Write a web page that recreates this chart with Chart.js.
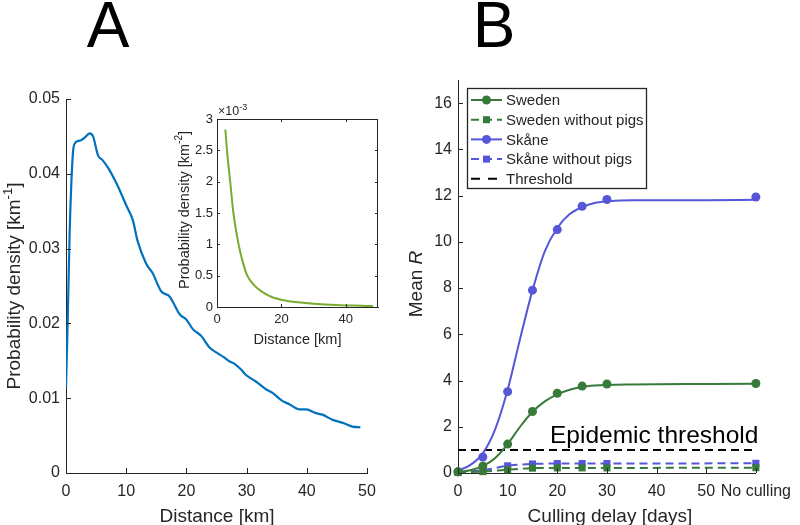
<!DOCTYPE html>
<html><head><meta charset="utf-8">
<script src="https://cdn.jsdelivr.net/npm/chart.js@4/dist/chart.umd.min.js"></script>
<style>
html,body{margin:0;padding:0;background:#fff;}
body{width:800px;height:525px;position:relative;overflow:hidden;}
canvas{position:absolute;}
</style></head>
<body>
<canvas id="cA" width="400" height="525" style="left:0;top:0"></canvas>
<canvas id="cIn" width="230" height="258" style="left:160px;top:100px"></canvas>
<canvas id="cB" width="400" height="525" style="left:400px;top:0"></canvas>
<script>
// ---------- Panel A: kernel density of distance ----------
const distA = [0, 0.3, 0.6, 0.9, 1.2, 1.6, 2.0, 2.5, 3.2, 3.9, 4.5, 5.3, 6.1, 7.0, 8.4, 10.0, 11.1, 11.9, 13.3, 14.4, 15.8, 17.2, 18.0, 18.9, 20.0, 21.1, 22.5, 23.8, 25.2, 26.2, 27.2, 28.0, 29.0, 29.9, 31.6, 33.2, 34.3, 36.0, 37.1, 38.8, 39.9, 41.5, 42.6, 44.3, 46.0, 47.6, 48.9];
const densA = [0.0115, 0.021, 0.032, 0.039, 0.0432, 0.0442, 0.0444, 0.0445, 0.0449, 0.0454, 0.0450, 0.0425, 0.0418, 0.0408, 0.0387, 0.0358, 0.0338, 0.0310, 0.0280, 0.0267, 0.0243, 0.0236, 0.0225, 0.0212, 0.0205, 0.0192, 0.0183, 0.0168, 0.0160, 0.0155, 0.0149, 0.0146, 0.0139, 0.0131, 0.0122, 0.0112, 0.0107, 0.0096, 0.0092, 0.0085, 0.0085, 0.0080, 0.0078, 0.0071, 0.0067, 0.0062, 0.0061];
// ---------- Inset: density per area (x 10^-3) ----------
const distIn = [2.6, 3.1, 4.1, 5.1, 6.7, 8.0, 9.4, 11.5, 13.8, 17.0, 21.5, 26.0, 31.0, 37.0, 43.0, 48.5];
const densIn = [2.83, 2.5, 2.0, 1.5, 1.0, 0.72, 0.5, 0.35, 0.25, 0.16, 0.1, 0.07, 0.048, 0.032, 0.022, 0.015];
// ---------- Panel B: mean R vs culling delay ----------
const delays = [0, 5, 10, 15, 20, 25, 30, 60];
const sweden = [0.05, 0.3, 1.25, 2.66, 3.45, 3.76, 3.85, 3.87];
const swedenNoPigs = [0.02, 0.06, 0.14, 0.21, 0.22, 0.22, 0.22, 0.23];
const skane = [0.05, 0.69, 3.52, 7.91, 10.53, 11.54, 11.83, 11.94];
const skaneNoPigs = [0.03, 0.12, 0.31, 0.39, 0.41, 0.41, 0.41, 0.42];
const fitDelays = [0, 2.5, 5, 7.5, 10, 12.5, 15, 17.5, 20, 22.5, 25, 27.5, 30, 35, 40, 50, 60];
const swedenFit = [0.05, 0.12, 0.3, 0.65, 1.25, 2.0, 2.65, 3.1, 3.4, 3.6, 3.72, 3.78, 3.81, 3.83, 3.84, 3.85, 3.86];
const skaneFit = [0.1, 0.35, 0.85, 1.9, 3.6, 5.8, 7.9, 9.6, 10.6, 11.2, 11.5, 11.68, 11.75, 11.8, 11.8, 11.8, 11.82];
const thresholdX = [0, 60];
const thresholdY = [1, 1];
const seriesNames = ['Sweden', 'Sweden without pigs', 'Sk\u00e5ne', 'Sk\u00e5ne without pigs', 'Threshold'];
const xTicksB = [0, 10, 20, 30, 40, 50, 60];
const noCullLabel = 'No culling';

const AX = '#262626', GREEN = '#377a39', PURPLE = '#5656d8', BLUE = '#0072bd', LGREEN = '#77ac30';
const FAM = '"Liberation Sans", Arial, Helvetica, sans-serif';
Chart.defaults.font.family = FAM;
Chart.defaults.color = AX;

const pts = (xs, ys) => xs.map((x, i) => ({x, y: ys[i]}));

function scale(min, max, step, o) {
  return {
    type: 'linear', min, max,
    ticks: {stepSize: step, includeBounds: false, autoSkip: false, maxRotation: 0, minRotation: 0,
            font: {size: o.fs}, color: AX, padding: o.pad, callback: o.cb},
    grid: {display: true, drawOnChartArea: false, drawTicks: false},
    border: {display: true, color: AX, width: 1},
    afterFit: s => { if (o.w != null) s.width = o.w; if (o.h != null) s.height = o.h; }
  };
}

function rich(ctx, parts, x, y, size, align, rot, color) {
  ctx.save();
  ctx.translate(x, y);
  if (rot) ctx.rotate(rot);
  ctx.fillStyle = color || AX;
  ctx.textBaseline = 'alphabetic';
  ctx.textAlign = 'left';
  const ss = Math.round(size * 0.7);
  let w = 0;
  parts.forEach(p => {
    p.f = (p.it ? 'italic ' : '') + (p.sup ? ss : size) + 'px ' + FAM;
    ctx.font = p.f; p.w = ctx.measureText(p.t).width; w += p.w;
  });
  let cx = align === 'center' ? -w / 2 : align === 'right' ? -w : 0;
  parts.forEach(p => { ctx.font = p.f; ctx.fillText(p.t, cx, p.sup ? -size * 0.42 : 0); cx += p.w; });
  ctx.restore();
}

function inTicks(chart, len, box) {
  const {ctx, chartArea: a, scales: {x, y}} = chart;
  ctx.save();
  ctx.strokeStyle = AX; ctx.lineWidth = 1;
  ctx.beginPath();
  x.ticks.forEach(t => {
    const p = Math.round(x.getPixelForValue(t.value)) + 0.5;
    ctx.moveTo(p, a.bottom); ctx.lineTo(p, a.bottom - len);
    if (box) { ctx.moveTo(p, a.top); ctx.lineTo(p, a.top + len); }
  });
  y.ticks.forEach(t => {
    const p = Math.round(y.getPixelForValue(t.value)) + 0.5;
    ctx.moveTo(a.left, p); ctx.lineTo(a.left + len, p);
    if (box) { ctx.moveTo(a.right, p); ctx.lineTo(a.right - len, p); }
  });
  ctx.stroke();
  if (box) { ctx.strokeRect(Math.round(a.left) + 0.5, Math.round(a.top) + 0.5, Math.round(a.width) - 1, Math.round(a.height)); }
  ctx.restore();
}

// ---------------- Chart A ----------------
new Chart(document.getElementById('cA'), {
  type: 'line',
  data: {datasets: [{
    data: pts(distA, densA), borderColor: BLUE, borderWidth: 2.2, pointRadius: 0,
    cubicInterpolationMode: 'monotone', fill: false
  }]},
  options: {
    responsive: false, animation: false,
    layout: {padding: {left: 0, right: 33, top: 99, bottom: 0}},
    plugins: {legend: {display: false}, tooltip: {enabled: false}},
    scales: {
      x: scale(0, 50, 10, {fs: 16, pad: 9, h: 52}),
      y: scale(0, 0.05, 0.01, {fs: 16, pad: 6, w: 66, cb: v => v === 0 ? '0' : Number(v).toFixed(2)})
    }
  },
  plugins: [{id: 'decoA', afterDraw(chart) {
    const ctx = chart.ctx;
    inTicks(chart, 5, false);
    rich(ctx, [{t: 'Distance [km]'}], 217, 522, 19, 'center');
    rich(ctx, [{t: 'Probability density [km'}, {t: '-1', sup: true}, {t: ']'}], 20, 286, 19, 'center', -Math.PI / 2);
    rich(ctx, [{t: 'A'}], 108, 47, 64, 'center', 0, '#000');
  }}]
});

// ---------------- Inset ----------------
new Chart(document.getElementById('cIn'), {
  type: 'line',
  data: {datasets: [{
    data: pts(distIn, densIn), borderColor: LGREEN, borderWidth: 2, pointRadius: 0,
    cubicInterpolationMode: 'monotone', fill: false
  }]},
  options: {
    responsive: false, animation: false,
    layout: {padding: {left: 0, right: 12, top: 19, bottom: 0}},
    plugins: {legend: {display: false}, tooltip: {enabled: false}},
    scales: {
      x: scale(0, 50, 20, {fs: 13, pad: 5, h: 51}),
      y: scale(0, 3, 0.5, {fs: 13, pad: 4, w: 57, cb: v => String(Math.round(v * 10) / 10)})
    }
  },
  plugins: [{id: 'decoIn', afterDraw(chart) {
    const ctx = chart.ctx;
    inTicks(chart, 3, true);
    rich(ctx, [{t: 'Distance [km]'}], 137.5, 243.5, 14.5, 'center');
    rich(ctx, [{t: 'Probability density [km'}, {t: '-2', sup: true}, {t: ']'}], 28.5, 110, 14.5, 'center', -Math.PI / 2);
    rich(ctx, [{t: '\u00d710'}, {t: '-3', sup: true}], 58, 15, 12.5, 'left');
  }}]
});

// ---------------- Chart B ----------------
const base = {fill: false, clip: false};
new Chart(document.getElementById('cB'), {
  type: 'line',
  data: {datasets: [
    Object.assign({label: seriesNames[0] + ' fit', data: pts(fitDelays, swedenFit), borderColor: GREEN, borderWidth: 2, pointRadius: 0, cubicInterpolationMode: 'monotone'}, base),
    Object.assign({label: seriesNames[0], data: pts(delays, sweden), showLine: false, pointRadius: 4.5, pointBackgroundColor: GREEN, pointBorderColor: GREEN, pointBorderWidth: 0}, base),
    Object.assign({label: seriesNames[1], data: pts(delays, swedenNoPigs), borderColor: GREEN, borderWidth: 2, borderDash: [8, 5], cubicInterpolationMode: 'monotone', pointStyle: 'rect', pointRadius: 5, pointBackgroundColor: GREEN, pointBorderColor: GREEN, pointBorderWidth: 0}, base),
    Object.assign({label: seriesNames[2] + ' fit', data: pts(fitDelays, skaneFit), borderColor: PURPLE, borderWidth: 2, pointRadius: 0, cubicInterpolationMode: 'monotone'}, base),
    Object.assign({label: seriesNames[2], data: pts(delays, skane), showLine: false, pointRadius: 4.5, pointBackgroundColor: PURPLE, pointBorderColor: PURPLE, pointBorderWidth: 0}, base),
    Object.assign({label: seriesNames[3], data: pts(delays, skaneNoPigs), borderColor: PURPLE, borderWidth: 2, borderDash: [8, 5], cubicInterpolationMode: 'monotone', pointStyle: 'rect', pointRadius: 5, pointBackgroundColor: PURPLE, pointBorderColor: PURPLE, pointBorderWidth: 0}, base),
    Object.assign({label: seriesNames[4], data: pts(thresholdX, thresholdY), borderColor: '#000', borderWidth: 2, borderDash: [8, 5], pointRadius: 0}, base)
  ]},
  options: {
    responsive: false, animation: false,
    layout: {padding: {left: 0, right: 37, top: 80, bottom: 0}},
    plugins: {legend: {display: false}, tooltip: {enabled: false}},
    scales: {
      x: Object.assign(scale(0, 60, 10, {fs: 16, pad: 9, h: 52, cb: v => v === 60 ? noCullLabel : String(v)}),
        {afterBuildTicks: s => { s.ticks = xTicksB.map(v => ({value: v})); }}),
      y: scale(0, 17, 2, {fs: 16, pad: 6, w: 58})
    }
  },
  plugins: [{id: 'decoB', afterDraw(chart) {
    const ctx = chart.ctx;
    inTicks(chart, 5, false);
    rich(ctx, [{t: 'Culling delay [days]'}], 210, 522, 19, 'center');
    rich(ctx, [{t: 'Mean '}, {t: 'R', it: true}], 21.5, 284, 19, 'center', -Math.PI / 2);
    rich(ctx, [{t: 'Epidemic threshold'}], 150, 443, 24.5, 'left', 0, '#000');
    rich(ctx, [{t: 'B'}], 94, 47, 64, 'center', 0, '#000');
    // legend
    ctx.save();
    ctx.fillStyle = '#fff';
    ctx.fillRect(67, 88, 180, 101);
    ctx.strokeStyle = AX; ctx.lineWidth = 1.3;
    ctx.strokeRect(67.5, 88.5, 179, 100);
    const ent = [
      {c: GREEN, dash: [], m: 'c'}, {c: GREEN, dash: [8, 5], m: 's'},
      {c: PURPLE, dash: [], m: 'c'}, {c: PURPLE, dash: [8, 5], m: 's'},
      {c: '#000', dash: [9, 8], m: null}
    ];
    ent.forEach((e, i) => {
      const yy = 100 + i * 19.7;
      ctx.strokeStyle = e.c; ctx.lineWidth = 2; ctx.setLineDash(e.dash);
      ctx.beginPath(); ctx.moveTo(71, yy); ctx.lineTo(102, yy); ctx.stroke();
      ctx.setLineDash([]);
      ctx.fillStyle = e.c;
      if (e.m === 'c') { ctx.beginPath(); ctx.arc(86.5, yy, 4.5, 0, Math.PI * 2); ctx.fill(); }
      if (e.m === 's') { ctx.fillRect(83, yy - 3.5, 7, 7); }
      ctx.fillStyle = AX; ctx.font = '15px ' + FAM; ctx.textBaseline = 'middle'; ctx.textAlign = 'left';
      ctx.fillText(seriesNames[i], 106, yy + 1);
    });
    ctx.restore();
  }}]
});
</script>
</body></html>
